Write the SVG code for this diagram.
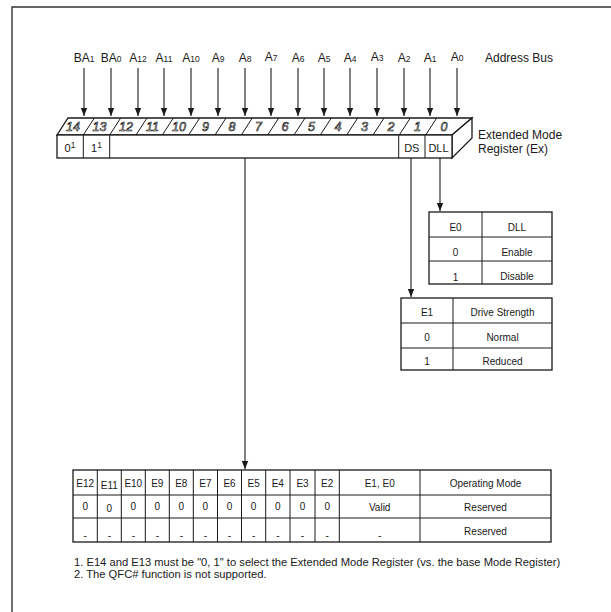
<svg xmlns="http://www.w3.org/2000/svg" width="611" height="612" viewBox="0 0 611 612">
<style>
text{font-family:"Liberation Sans",Arial,sans-serif;fill:#1a1a1a}
.lb{font-size:12px;text-anchor:middle}
.sb{font-size:8.5px}
.bn{font-size:12.5px;font-style:italic;text-anchor:middle;fill:#fff;stroke:#000;stroke-width:0.6}
.ft{font-size:11px;text-anchor:middle}
.sp{font-size:8.5px}
.tt{font-size:10px;text-anchor:middle}
.ln{stroke:#1a1a1a;stroke-width:1;fill:none}
.bx{stroke:#1a1a1a;stroke-width:1.3;fill:#fff}
.cn{stroke:#1a1a1a;stroke-width:1.1;fill:none}
.nt{font-size:11.2px}
</style>
<defs>
<marker id="ah" viewBox="0 0 8 8" refX="8" refY="4" markerWidth="8" markerHeight="8" orient="auto" markerUnits="userSpaceOnUse">
<path d="M0,0.8 L8,4 L0,7.2 z" fill="#1a1a1a"/>
</marker>
</defs>
<rect width="611" height="612" fill="#fff"/>
<g id="frame"><path d="M12,612 V7 H611" stroke="#333" stroke-width="1.4" fill="none"/></g>

<g id="address-bus">
<text class="lb" x="84" y="62">BA<tspan class="sb">1</tspan></text>
<text class="lb" x="111" y="62">BA<tspan class="sb">0</tspan></text>
<text class="lb" x="138" y="62">A<tspan class="sb">12</tspan></text>
<text class="lb" x="164" y="62">A<tspan class="sb">11</tspan></text>
<text class="lb" x="191" y="62">A<tspan class="sb">10</tspan></text>
<text class="lb" x="218" y="62">A<tspan class="sb">9</tspan></text>
<text class="lb" x="245" y="62">A<tspan class="sb">8</tspan></text>
<text class="lb" x="271" y="60.5">A<tspan class="sb">7</tspan></text>
<text class="lb" x="298" y="62">A<tspan class="sb">6</tspan></text>
<text class="lb" x="324" y="62">A<tspan class="sb">5</tspan></text>
<text class="lb" x="350" y="62">A<tspan class="sb">4</tspan></text>
<text class="lb" x="377" y="60.5">A<tspan class="sb">3</tspan></text>
<text class="lb" x="404" y="62">A<tspan class="sb">2</tspan></text>
<text class="lb" x="430" y="62">A<tspan class="sb">1</tspan></text>
<text class="lb" x="457" y="60.5">A<tspan class="sb">0</tspan></text>
<text x="485" y="62" font-size="12">Address Bus</text>
</g>

<g id="register">
<path class="bx" d="M57,135 L68,118 L472,118 L452,135 Z"/>
<path class="bx" d="M452,135 L472,118 L472,138 L452,158 Z"/>
<rect class="bx" x="57" y="135" width="395" height="23"/>
<g class="ln">
<path d="M83.3,135 l11,-17 M109.7,135 l11,-17 M136,135 l11,-17 M162.3,135 l11,-17 M188.7,135 l11,-17 M215,135 l11,-17 M241.3,135 l11,-17 M267.7,135 l11,-17 M294,135 l11,-17 M320.3,135 l11,-17 M346.7,135 l11,-17 M373,135 l11,-17 M399.3,135 l11,-17 M425.7,135 l11,-17"/>
<path d="M83.3,135 V158 M109.7,135 V158 M398.7,135 V158 M425,135 V158"/>
</g>
<text class="bn" x="73" y="131">14</text>
<text class="bn" x="99.5" y="131">13</text>
<text class="bn" x="126" y="131">12</text>
<text class="bn" x="152.5" y="131">11</text>
<text class="bn" x="179" y="131">10</text>
<text class="bn" x="205.5" y="131">9</text>
<text class="bn" x="232" y="131">8</text>
<text class="bn" x="258.5" y="131">7</text>
<text class="bn" x="285" y="131">6</text>
<text class="bn" x="311.5" y="131">5</text>
<text class="bn" x="338" y="131">4</text>
<text class="bn" x="364.5" y="131">3</text>
<text class="bn" x="391" y="131">2</text>
<text class="bn" x="417.5" y="131">1</text>
<text class="bn" x="444" y="131">0</text>
<text class="ft" x="70" y="152">0<tspan class="sp" dy="-4.5">1</tspan></text>
<text class="ft" x="96.5" y="152">1<tspan class="sp" dy="-4.5">1</tspan></text>
<text class="ft" x="411.8" y="152">DS</text>
<text class="ft" x="438.5" y="152">DLL</text>
<text x="478" y="139" font-size="12">Extended Mode</text>
<text x="478" y="153" font-size="12">Register (Ex)</text>
</g>

<g id="connectors" class="cn" marker-end="url(#ah)">
<line x1="84" y1="68" x2="84" y2="116"/>
<line x1="111" y1="68" x2="111" y2="116"/>
<line x1="138" y1="68" x2="138" y2="116"/>
<line x1="164" y1="68" x2="164" y2="116"/>
<line x1="191" y1="68" x2="191" y2="116"/>
<line x1="218" y1="68" x2="218" y2="116"/>
<line x1="245" y1="68" x2="245" y2="116"/>
<line x1="271" y1="68" x2="271" y2="116"/>
<line x1="298" y1="68" x2="298" y2="116"/>
<line x1="324" y1="68" x2="324" y2="116"/>
<line x1="350" y1="68" x2="350" y2="116"/>
<line x1="377" y1="68" x2="377" y2="116"/>
<line x1="404" y1="68" x2="404" y2="116"/>
<line x1="430" y1="68" x2="430" y2="116"/>
<line x1="457" y1="68" x2="457" y2="116"/>
<line x1="440" y1="158" x2="440" y2="211"/>
<line x1="411" y1="158" x2="411" y2="297"/>
<line x1="245" y1="158" x2="245" y2="469"/>
</g>

<g id="dll-table">
<rect class="bx" x="429" y="212" width="123" height="72"/>
<path class="ln" d="M429,237 H552 M429,261 H552 M482,212 V284"/>
<text class="tt" x="455.5" y="231">E0</text>
<text class="tt" x="517" y="231">DLL</text>
<text class="tt" x="455.5" y="255.5">0</text>
<text class="tt" x="517" y="255.5">Enable</text>
<text class="tt" x="455.5" y="281">1</text>
<text class="tt" x="517" y="280">Disable</text>
</g>

<g id="ds-table">
<rect class="bx" x="401" y="298" width="151" height="72"/>
<path class="ln" d="M401,323 H552 M401,348 H552 M453,298 V370"/>
<text class="tt" x="427" y="316">E1</text>
<text class="tt" x="502.5" y="316">Drive Strength</text>
<text class="tt" x="427" y="341">0</text>
<text class="tt" x="502.5" y="341">Normal</text>
<text class="tt" x="427" y="365">1</text>
<text class="tt" x="502.5" y="365">Reduced</text>
</g>

<g id="mode-table">
<rect class="bx" x="73" y="470" width="478" height="72"/>
<path class="ln" d="M73,495 H551 M73,518 H551 M97.3,470 V542 M121.3,470 V542 M145.3,470 V542 M169.3,470 V542 M193.3,470 V542 M217.5,470 V542 M241.5,470 V542 M265.7,470 V542 M290,470 V542 M315,470 V542 M339.3,470 V542 M420,470 V542"/>
<g class="tt">
<text x="85.2" y="487">E12</text><text x="109.3" y="489">E11</text><text x="133.3" y="487">E10</text><text x="157.3" y="487">E9</text><text x="181.3" y="487">E8</text><text x="205.4" y="487">E7</text><text x="229.5" y="487">E6</text><text x="253.6" y="487">E5</text><text x="277.8" y="487">E4</text><text x="302.5" y="487">E3</text><text x="327.2" y="487">E2</text><text x="379.7" y="487">E1, E0</text><text x="485.5" y="487">Operating Mode</text>
<text x="85.2" y="510">0</text><text x="109.3" y="512">0</text><text x="133.3" y="510">0</text><text x="157.3" y="510">0</text><text x="181.3" y="510">0</text><text x="205.4" y="510">0</text><text x="229.5" y="510">0</text><text x="253.6" y="510">0</text><text x="277.8" y="510">0</text><text x="302.5" y="510">0</text><text x="327.2" y="510">0</text><text x="379.7" y="511">Valid</text><text x="485.5" y="511">Reserved</text>
<text x="85.2" y="539">-</text><text x="109.3" y="539">-</text><text x="133.3" y="539">-</text><text x="157.3" y="539">-</text><text x="181.3" y="539">-</text><text x="205.4" y="539">-</text><text x="229.5" y="539">-</text><text x="253.6" y="539">-</text><text x="277.8" y="539">-</text><text x="302.5" y="539">-</text><text x="327.2" y="539">-</text><text x="379.7" y="539">-</text><text x="485.5" y="535">Reserved</text>
</g>
</g>

<g id="notes">
<text class="nt" x="74" y="566">1. E14 and E13 must be "0, 1" to select the Extended Mode Register (vs. the base Mode Register)</text>
<text class="nt" x="74" y="578">2. The QFC# function is not supported.</text>
</g>
</svg>
